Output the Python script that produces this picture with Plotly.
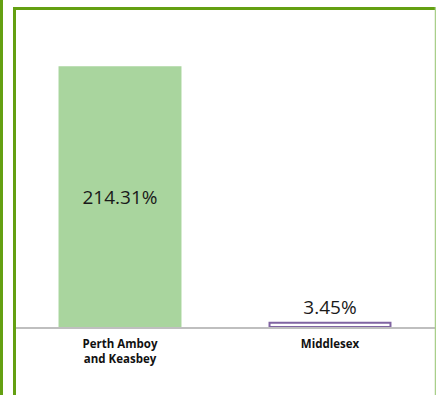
import plotly.graph_objects as go

categories = ["Perth Amboy<br>and Keasbey", "Middlesex"]
values = [214.31, 3.45]
fill_colors = ["#a9d59e", "#ffffff"]
line_colors = ["#a9d59e", "#8064a2"]
text_positions = ["inside", "outside"]

W, H = 436, 395
L, R = 15, 1
B = 68
T = 24
ymax = 250

fig = go.Figure(go.Bar(
    x=categories,
    y=values,
    width=0.576,
    marker=dict(color=fill_colors, line=dict(color=line_colors, width=2)),
    text=[f"{v:.2f}%" for v in values],
    textposition=text_positions,
    insidetextanchor="middle",
    textfont=dict(family="Open Sans", size=19, color="#1a1a1a"),
    hoverinfo="skip",
))

plot_w = W - L - R
plot_h = H - T - B

def px_x(x):
    return (x - L) / plot_w

def px_y(y):
    return (H - B - y) / plot_h

shapes = [
    # outer left line
    dict(type="line", xref="paper", yref="paper", x0=px_x(1.5), x1=px_x(1.5), y0=px_y(0), y1=px_y(H),
         line=dict(color="#64a012", width=3)),
    # frame left
    dict(type="line", xref="paper", yref="paper", x0=px_x(14.5), x1=px_x(14.5), y0=px_y(7), y1=px_y(H),
         line=dict(color="#64a012", width=3)),
    # frame top
    dict(type="line", xref="paper", yref="paper", x0=px_x(13), x1=px_x(W), y0=px_y(8.5), y1=px_y(8.5),
         line=dict(color="#64a012", width=3)),
    # frame right
    dict(type="line", xref="paper", yref="paper", x0=px_x(435.5), x1=px_x(435.5), y0=px_y(7), y1=px_y(H),
         line=dict(color="#a9cf8a", width=1.5)),
]

fig.update_layout(
    width=W, height=H,
    margin=dict(l=L, r=R, t=T, b=B, pad=0),
    paper_bgcolor="white", plot_bgcolor="white",
    showlegend=False,
    shapes=shapes,
    xaxis=dict(
        showline=True, linecolor="#bfbfbf", linewidth=1.5,
        showgrid=False, ticks="", ticklabelstandoff=5,
        tickfont=dict(family="Open Sans", size=11.5, color="#111111", weight="bold"),
    ),
    yaxis=dict(range=[0, ymax], visible=False, showgrid=False, zeroline=False),
)

fig.write_html(
    "out.html",
    config={"displayModeBar": False},
    post_script="document.body.style.margin='0';document.body.style.overflow='hidden';",
)
